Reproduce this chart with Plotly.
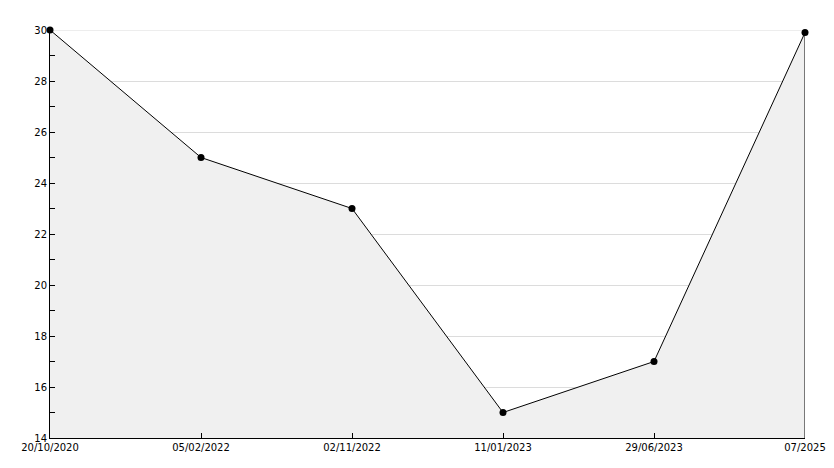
import plotly.graph_objects as go

categories = ["20/10/2020", "05/02/2022", "02/11/2022", "11/01/2023", "29/06/2023", "07/2025"]
values = [30, 25, 23, 15, 17, 29.9]
y_min, y_max = 14, 30

fig = go.Figure()
fig.add_trace(go.Scatter(
    x=categories, y=values, mode="lines+markers",
    fill="tozeroy", fillcolor="#f0f0f0",
    line=dict(color="black", width=1),
    marker=dict(color="black", size=7, symbol="circle"),
    cliponaxis=False,
    hoverinfo="x+y", showlegend=False,
))
# right edge outline of the filled area
fig.add_trace(go.Scatter(
    x=[categories[-1], categories[-1]], y=[y_min, values[-1]], mode="lines",
    line=dict(color="black", width=1), hoverinfo="skip", showlegend=False,
    cliponaxis=False,
))

# page body has an 8px margin, so the figure is sized/offset to compensate
fig.update_layout(
    width=826, height=460,
    margin=dict(l=42, r=29, t=22, b=30, autoexpand=False),
    paper_bgcolor="white", plot_bgcolor="white",
    font=dict(family="DejaVu Sans", size=10, color="black"),
    shapes=[dict(type="line", xref="paper", yref="y", x0=0, x1=1, y0=y_max, y1=y_max,
                 line=dict(color="#dcdcdc", width=1), layer="below")],
)
fig.update_xaxes(
    type="category", range=[0, len(categories) - 1], automargin=False,
    showgrid=False, zeroline=False,
    showline=True, linecolor="black", linewidth=1,
    ticks="inside", ticklen=5, tickcolor="black",
    tickfont=dict(size=10),
)
fig.update_yaxes(
    range=[y_min, y_max], dtick=2, tick0=14, automargin=False,
    showgrid=True, gridcolor="#dcdcdc", gridwidth=1, zeroline=False,
    showline=True, linecolor="black", linewidth=1,
    ticks="inside", ticklen=5, tickcolor="black",
    minor=dict(dtick=1, ticks="inside", ticklen=5, tickcolor="black", showgrid=False),
    tickfont=dict(size=10),
)
fig.write_html("out.html")
